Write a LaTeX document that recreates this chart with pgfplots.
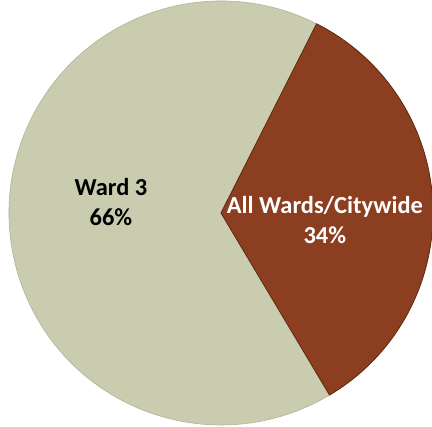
\documentclass[border=0pt]{standalone}
\usepackage{pgfplots}
\usepackage{pgfplotstable}
\pgfplotsset{compat=1.18}
\usepackage{fontspec}
\setmainfont{Carlito}
\definecolor{wardthree}{RGB}{201,204,174}
\definecolor{citywide}{RGB}{139,63,32}
\definecolor{citywideedge}{RGB}{95,40,18}
\definecolor{wardedge}{RGB}{178,180,150}
\pgfplotstableread{
label value
Citywide 34
Ward3 66
}\piedata
\begin{document}
\begin{tikzpicture}
\pgfplotstablegetelem{0}{value}\of\piedata \let\va\pgfplotsretval
\pgfplotstablegetelem{1}{value}\of\piedata \let\vb\pgfplotsretval
\pgfmathsetmacro\sa{-59.2}
\pgfmathsetmacro\ea{\sa+3.6*\va}
\pgfmathsetmacro\eb{\ea+3.6*\vb}
\begin{axis}[
  scale only axis, width=432bp, height=427bp,
  xmin=-1.0425, xmax=0.9953, ymin=-1.0094, ymax=1.0047,
  hide axis, clip=true,
  /pgf/number format/assume math mode=true,
]
\fill[wardthree, draw=wardedge, line width=0.6pt] (axis cs:0,0) -- (axis cs:{cos(\ea)},{sin(\ea)}) arc[start angle=\ea, end angle=\eb, radius=212bp] -- cycle;
\fill[citywide, draw=citywideedge, line width=0.8pt] (axis cs:0,0) -- (axis cs:{cos(\sa)},{sin(\sa)}) arc[start angle=\sa, end angle=\ea, radius=212bp] -- cycle;
\node[align=center, font=\fontsize{24.5}{30}\selectfont\bfseries, text=black] at (axis cs:-0.519,0.052) {Ward 3\\\pgfmathprintnumber[assume math mode=true]{\vb}\%};
\node[align=center, font=\fontsize{24.5}{30}\selectfont\bfseries, text=white] at (axis cs:0.49,-0.033) {All Wards/Citywide\\\pgfmathprintnumber[assume math mode=true]{\va}\%};
\end{axis}
\end{tikzpicture}
\end{document}
